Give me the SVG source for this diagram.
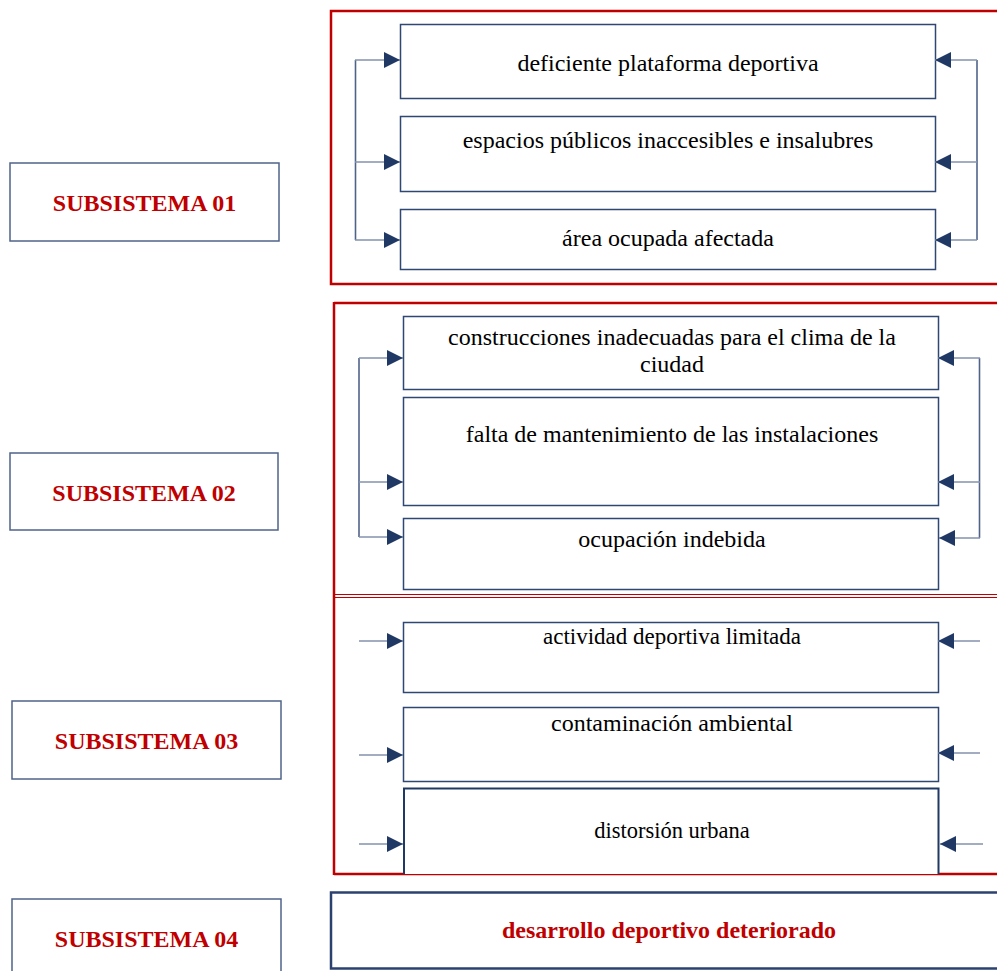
<svg xmlns="http://www.w3.org/2000/svg" width="997" height="971" viewBox="0 0 997 971">
<style>
.box{fill:#fff;stroke:#2E4873;stroke-width:1.5}
.sub{fill:#fff;stroke:#4F6389;stroke-width:1.5}
.red{fill:none;stroke:#C00000;stroke-width:2.5}
.redt{fill:none;stroke:#C00000;stroke-width:1.2}
.t{font-family:"Liberation Serif","Times New Roman",serif;font-size:24px;fill:#000;text-anchor:middle}
.b{font-family:"Liberation Serif","Times New Roman",serif;font-size:24px;font-weight:bold;fill:#C00000;text-anchor:middle}
.c{fill:none;stroke:#8592AE;stroke-width:1.6}
.v{fill:none;stroke:#4F6389;stroke-width:1.6}
</style>
<defs>
<marker id="ah" markerUnits="userSpaceOnUse" markerWidth="16" markerHeight="16" viewBox="0 0 16 16" refX="16" refY="8" orient="auto">
<path d="M0,0 L16,8 L0,16 Z" fill="#1F3864"/>
</marker>
</defs>
<rect width="997" height="971" fill="#fff"/>
<g id="frames">
<rect class="red" x="331" y="11" width="690" height="273"/>
<line class="red" x1="334" y1="303" x2="1000" y2="303"/>
<line class="red" x1="334" y1="302" x2="334" y2="875"/>
<line class="red" x1="334" y1="874" x2="1000" y2="874"/>
<line class="redt" x1="334" y1="594.5" x2="1000" y2="594.5"/>
<line class="redt" x1="334" y1="597.5" x2="1000" y2="597.5"/>
</g>
<g id="sub01"><rect class="sub" x="10" y="163" width="269" height="78"/><text class="b" x="144.5" y="211">SUBSISTEMA 01</text></g>
<g id="sub02"><rect class="sub" x="10" y="453" width="268" height="77"/><text class="b" x="144" y="501">SUBSISTEMA 02</text></g>
<g id="sub03"><rect class="sub" x="12" y="701" width="269" height="78"/><text class="b" x="146.5" y="749">SUBSISTEMA 03</text></g>
<g id="sub04"><rect class="sub" x="12" y="899" width="269" height="80"/><text class="b" x="146.5" y="947">SUBSISTEMA 04</text></g>
<g id="nA"><rect class="box" x="400.5" y="24.5" width="535" height="74"/><text class="t" x="668" y="71">deficiente plataforma deportiva</text></g>
<g id="nB"><rect class="box" x="400.5" y="116.5" width="535" height="75"/><text class="t" x="668" y="148">espacios públicos inaccesibles e insalubres</text></g>
<g id="nC"><rect class="box" x="400.5" y="209.5" width="535" height="60"/><text class="t" x="668" y="246">área ocupada afectada</text></g>
<g id="nD"><rect class="box" x="403.5" y="316.5" width="535" height="73"/><text class="t" x="672" y="345">construcciones inadecuadas para el clima de la</text><text class="t" x="672" y="372">ciudad</text></g>
<g id="nE"><rect class="box" x="403.5" y="397.5" width="535" height="108"/><text class="t" x="672" y="442">falta de mantenimiento de las instalaciones</text></g>
<g id="nF"><rect class="box" x="403.5" y="518.5" width="535" height="71"/><text class="t" x="672" y="547">ocupación indebida</text></g>
<g id="nG"><rect class="box" x="403.5" y="622.5" width="535" height="70"/><text class="t" x="672" y="644" style="font-size:23px">actividad deportiva limitada</text></g>
<g id="nH"><rect class="box" x="403.5" y="707.5" width="535" height="74"/><text class="t" x="672" y="731">contaminación ambiental</text></g>
<g id="nI"><path d="M404,874 V788.5 H938.5 V874" fill="#fff" stroke="#1F3864" stroke-width="2"/><text class="t" x="672" y="838" style="font-size:22.5px">distorsión urbana</text></g>
<g id="nJ"><rect x="331" y="892.5" width="690" height="76" fill="#fff" stroke="#2B4170" stroke-width="2.5"/><text class="b" x="669" y="938">desarrollo deportivo deteriorado</text></g>
<g id="connectors">
<path class="v" d="M355.5,60 V240"/>
<line class="c" x1="355" y1="60" x2="400" y2="60" marker-end="url(#ah)"/>
<line class="c" x1="355" y1="162" x2="400" y2="162" marker-end="url(#ah)"/>
<line class="c" x1="355" y1="240" x2="400" y2="240" marker-end="url(#ah)"/>
<path class="v" d="M977,60 V240"/>
<line class="c" x1="977" y1="60" x2="935" y2="60" marker-end="url(#ah)"/>
<line class="c" x1="977" y1="162" x2="935" y2="162" marker-end="url(#ah)"/>
<line class="c" x1="977" y1="240" x2="935" y2="240" marker-end="url(#ah)"/>
<path class="v" d="M359,358 V537"/>
<line class="c" x1="359" y1="358" x2="403" y2="358" marker-end="url(#ah)"/>
<line class="c" x1="359" y1="482" x2="403" y2="482" marker-end="url(#ah)"/>
<line class="c" x1="359" y1="537" x2="403" y2="537" marker-end="url(#ah)"/>
<path class="v" d="M979.5,358 V538"/>
<line class="c" x1="980" y1="358" x2="938" y2="358" marker-end="url(#ah)"/>
<line class="c" x1="980" y1="482" x2="938" y2="482" marker-end="url(#ah)"/>
<line class="c" x1="980" y1="538" x2="939" y2="538" marker-end="url(#ah)"/>
<line class="c" x1="359" y1="641" x2="403" y2="641" marker-end="url(#ah)"/>
<line class="c" x1="359" y1="755" x2="403" y2="755" marker-end="url(#ah)"/>
<line class="c" x1="359" y1="844" x2="403" y2="844" marker-end="url(#ah)"/>
<line class="c" x1="980" y1="641" x2="938" y2="641" marker-end="url(#ah)"/>
<line class="c" x1="980" y1="753" x2="938" y2="753" marker-end="url(#ah)"/>
<line class="c" x1="983" y1="844" x2="940" y2="844" marker-end="url(#ah)"/>
</g>
</svg>
